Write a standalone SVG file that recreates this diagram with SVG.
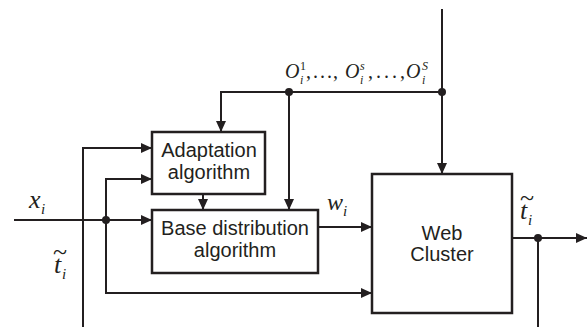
<svg xmlns="http://www.w3.org/2000/svg" width="587" height="327" viewBox="0 0 587 327">
<style>
.box{fill:#fff;stroke:#231f20;stroke-width:2.5}
.ln{fill:none;stroke:#231f20;stroke-width:2}
.dot{fill:#231f20}
.lbl{font-family:"Liberation Sans",Arial,sans-serif;font-size:20px;fill:#231f20;text-anchor:middle}
.m{font-family:"Liberation Serif","Times New Roman",serif;font-style:italic;fill:#231f20}
.up{font-style:normal}
</style>
<defs>
<marker id="arr" markerUnits="userSpaceOnUse" markerWidth="11" markerHeight="10" refX="11" refY="5" orient="auto">
<path d="M0,0 L11,5 L0,10 z" fill="#231f20"/>
</marker>
</defs>
<rect width="587" height="327" fill="#fff"/>
<g id="connectors">
<path class="ln" d="M442,9 V174" marker-end="url(#arr)"/>
<path class="ln" d="M442,92 H221 V132" marker-end="url(#arr)"/>
<path class="ln" d="M289,92 V210" marker-end="url(#arr)"/>
<path class="ln" d="M203,194 V210" marker-end="url(#arr)"/>
<path class="ln" d="M83,327 V148 H152" marker-end="url(#arr)"/>
<path class="ln" d="M14,220 H152" marker-end="url(#arr)"/>
<path class="ln" d="M106,220 V179 H152" marker-end="url(#arr)"/>
<path class="ln" d="M106,220 V293 H372" marker-end="url(#arr)"/>
<path class="ln" d="M318,227 H372" marker-end="url(#arr)"/>
<path class="ln" d="M512,238 H587" marker-end="url(#arr)"/>
<path class="ln" d="M538,238 V327"/>
<circle class="dot" cx="442" cy="92" r="4"/>
<circle class="dot" cx="289" cy="92" r="4"/>
<circle class="dot" cx="106" cy="220" r="4"/>
<circle class="dot" cx="538" cy="238" r="4"/>
</g>
<g id="adaptation">
<rect class="box" x="152" y="132" width="113" height="62"/>
<text class="lbl" x="209" y="157">Adaptation</text>
<text class="lbl" x="209" y="179">algorithm</text>
</g>
<g id="base">
<rect class="box" x="152" y="210" width="166" height="63"/>
<text class="lbl" x="235" y="235">Base distribution</text>
<text class="lbl" x="235" y="257">algorithm</text>
</g>
<g id="web">
<rect class="box" x="372" y="174" width="140" height="139"/>
<text class="lbl" x="442" y="240">Web</text>
<text class="lbl" x="442" y="261">Cluster</text>
</g>
<g id="labels">
<text class="m" font-size="20"><tspan x="285" y="78">O</tspan><tspan x="300" y="70" class="up" font-size="12">1</tspan><tspan x="300" y="84" font-size="12">i</tspan><tspan x="306 313 320 327 333" y="78" class="up">,...,</tspan><tspan x="345" y="78">O</tspan><tspan x="360" y="70" font-size="12">s</tspan><tspan x="360" y="84" font-size="12">i</tspan><tspan x="368 376 384 392 400" y="78" class="up">,...,</tspan><tspan x="406" y="78">O</tspan><tspan x="422" y="70" font-size="12">S</tspan><tspan x="422" y="84" font-size="12">i</tspan></text>
<text class="m" font-size="26"><tspan x="29" y="208">x</tspan><tspan x="41" y="214" font-size="15">i</tspan></text>
<text class="m" font-size="24"><tspan x="327" y="210">w</tspan><tspan x="343" y="216" font-size="15">i</tspan></text>
<text class="m" font-size="26"><tspan x="53" y="260" class="up">~</tspan><tspan x="54" y="273">t</tspan><tspan x="62" y="279" font-size="15">i</tspan></text>
<text class="m" font-size="26"><tspan x="520" y="206" class="up">~</tspan><tspan x="520" y="219">t</tspan><tspan x="528" y="225" font-size="15">i</tspan></text>
</g>
</svg>
